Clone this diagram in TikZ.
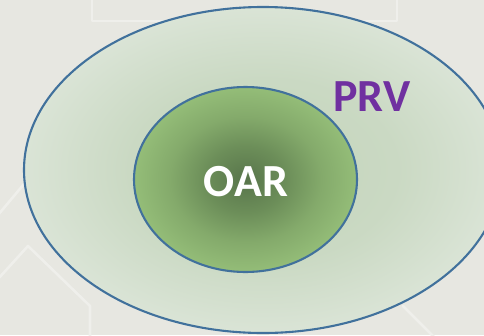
\documentclass[tikz,border=0pt]{standalone}
\usepackage{fontspec}
\setmainfont{Carlito}
\usetikzlibrary{shapes.geometric}
\definecolor{bg}{HTML}{E7E7E1}
\definecolor{bgline}{HTML}{EFEFEB}
\definecolor{edgeblue}{HTML}{41719C}
\definecolor{prvpurple}{HTML}{7030A0}
\pgfdeclareradialshading{oarshade}{\pgfpoint{0bp}{0bp}}{%
  color(0bp)=(rgb,255:red,88;green,117;blue,75);
  color(9bp)=(rgb,255:red,108;green,142;blue,89);
  color(17bp)=(rgb,255:red,132;green,170;blue,107);
  color(25bp)=(rgb,255:red,148;green,189;blue,120);
  color(50bp)=(rgb,255:red,148;green,189;blue,120)}
\pgfdeclareradialshading{prvshade}{\pgfpoint{0bp}{0bp}}{%
  color(0bp)=(rgb,255:red,196;green,213;blue,188);
  color(14bp)=(rgb,255:red,202;green,217;blue,195);
  color(25bp)=(rgb,255:red,218;green,228;blue,214);
  color(50bp)=(rgb,255:red,218;green,228;blue,214)}
\tikzset{
  region/.style={ellipse, draw=edgeblue, line width=2.1pt, inner sep=0pt},
  bgstroke/.style={draw=bgline, line width=2.6pt, line cap=round, line join=round},
  label/.style={font=\bfseries\fontsize{46}{46}\selectfont, inner sep=0pt, anchor=center}
}
\begin{document}
\begin{tikzpicture}[x=1pt,y=-1pt]
  \fill[bg] (0,0) rectangle (484,335);
  \useasboundingbox (0,0) rectangle (484,335);
  \begin{scope}
    \clip (0,0) rectangle (484,335);
    % faint background pattern
    \draw[bgstroke] (92,-5) -- (92,21) -- (397,21) -- (397,-5);
    \draw[bgstroke] (-2,215) -- (24,184);
    \draw[bgstroke] (-2,279) -- (28,246) -- (90,306) -- (90,340);
    \draw[bgstroke] (403,306) -- (437,340);
    % regions
    \node[region, shading=prvshade, minimum width=478pt, minimum height=326pt] (prv) at (263,170) {};
    \node[region, shading=oarshade, minimum width=223pt, minimum height=185pt] (oar) at (245.5,179.5) {};
  \end{scope}
  % labels
  \node[label, text=white] (oartext) at (245.8,182) {OAR};
  \node[label, text=prvpurple] (prvtext) at (372,97) {PRV};
\end{tikzpicture}
\end{document}
